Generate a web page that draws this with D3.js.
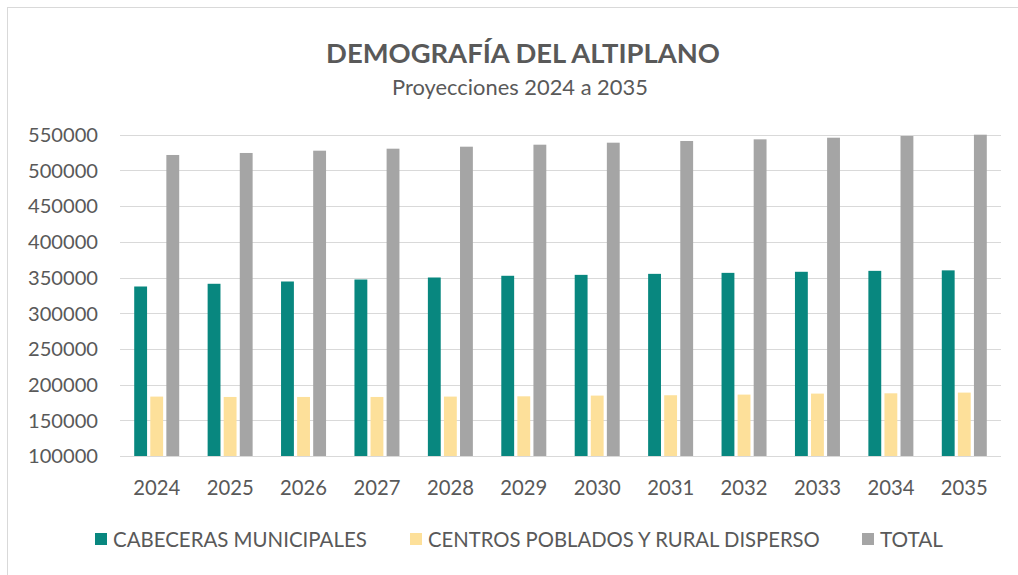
<!DOCTYPE html>
<html>
  <head>
    <meta charset="utf-8">
    <title>Demografía del Altiplano</title>
    <script src="https://cdn.jsdelivr.net/npm/d3@7"></script>
    <style>
      body { margin: 0; background: #fff; }
      svg text { font-family: Lato, "Open Sans", sans-serif; fill: #595959; }
    </style>
  </head>
  <body>
    <svg id="chart" width="1018" height="575"></svg>

    <script>
      // data
      years = ["2024", "2025", "2026", "2027", "2028", "2029", "2030", "2031", "2032", "2033", "2034", "2035"];
      seriesNames = ["CABECERAS MUNICIPALES", "CENTROS POBLADOS Y RURAL DISPERSO", "TOTAL"];
      cabeceras = [337400, 341200, 344400, 347200, 350000, 352400, 353700, 355100, 356500, 358000, 359300, 360000];
      centros = [183200, 182700, 182700, 182700, 183200, 183600, 184600, 185100, 186000, 187400, 187800, 188800];
      total = [521600, 524400, 527600, 530400, 533200, 536000, 538800, 541200, 543500, 545800, 548200, 550000];
      yTicks = [100000, 150000, 200000, 250000, 300000, 350000, 400000, 450000, 500000, 550000];
      colors = ["#08877f", "#fde09a", "#a5a5a5"];

      svg = d3.select("#chart");

      // sizes a text so that it takes the given width
      function fit(sel, width) {
        sel.each(function() {
          var size = parseFloat(this.getAttribute("font-size"));
          var w = this.getComputedTextLength();
          if (w > 0) this.setAttribute("font-size", (size * width / w).toFixed(2));
        });
        return sel;
      }

      // frame
      svg.append("rect")
        .attr("x", 7.5).attr("y", 7.5)
        .attr("width", 1100).attr("height", 700)
        .attr("fill", "none")
        .attr("stroke", "#d9d9d9");

      // titles
      svg.append("text")
        .attr("x", 523).attr("y", 63)
        .attr("text-anchor", "middle")
        .attr("font-size", 26)
        .attr("font-weight", "bold")
        .text("DEMOGRAFÍA DEL ALTIPLANO")
        .call(fit, 394);
      svg.append("text")
        .attr("x", 520).attr("y", 95)
        .attr("text-anchor", "middle")
        .attr("font-size", 18)
        .text("Proyecciones 2024 a 2035")
        .call(fit, 256);

      // scales
      x0 = d3.scaleBand()
        .domain(years)
        .range([120, 1001])
        .padding(0);
      x1 = d3.scaleBand()
        .domain(seriesNames)
        .range([0, 45])
        .paddingInner(0.2);
      y = d3.scaleLinear()
        .domain([100000, 550000])
        .range([456, 134.7]);

      // grid
      svg.append("g")
        .selectAll("line")
        .data(yTicks)
        .join("line")
          .attr("x1", 120).attr("x2", 1001)
          .attr("y1", function(d) { return Math.round(y(d)) + 0.5; })
          .attr("y2", function(d) { return Math.round(y(d)) + 0.5; })
          .attr("stroke", "#d9d9d9")
          .attr("stroke-width", 1.2);

      // y axis
      yAxis = d3.axisLeft(y)
        .tickValues(yTicks)
        .tickFormat(d3.format("d"))
        .tickSize(0)
        .tickPadding(0);
      svg.append("g")
        .attr("transform", "translate(98, 0)")
        .call(yAxis)
        .call(function(g) { g.select(".domain").remove(); })
        .selectAll("text")
          .attr("font-size", 19)
          .attr("dy", "0.34em")
          .style("font-family", "Lato, sans-serif")
          .attr("fill", "#595959")
          .call(fit, 70);

      // x axis
      xAxis = d3.axisBottom(x0).tickSize(0).tickPadding(0);
      svg.append("g")
        .attr("transform", "translate(0, 495)")
        .call(xAxis)
        .call(function(g) { g.select(".domain").remove(); })
        .selectAll("text")
          .attr("dy", 0)
          .attr("font-size", 19)
          .style("font-family", "Lato, sans-serif")
          .attr("fill", "#595959")
          .call(fit, 47);

      // bars
      rows = years.map(function(yr, i) {
        return { year: yr, values: [cabeceras[i], centros[i], total[i]] };
      });
      groups = svg.append("g")
        .selectAll("g")
        .data(rows)
        .join("g")
          .attr("transform", function(d) {
            return "translate(" + (x0(d.year) + (x0.bandwidth() - 45) / 2) + ",0)";
          });
      groups.selectAll("rect")
        .data(function(d) {
          return d.values.map(function(v, j) { return { name: seriesNames[j], value: v, color: colors[j] }; });
        })
        .join("rect")
          .attr("x", function(d) { return x1(d.name); })
          .attr("width", x1.bandwidth())
          .attr("y", function(d) { return y(d.value); })
          .attr("height", function(d) { return y(100000) - y(d.value); })
          .attr("fill", function(d) { return d.color; });

      // legend
      legendX = [95, 410, 862];
      legendW = [254, 392, 63];
      legend = svg.append("g")
        .selectAll("g")
        .data(seriesNames)
        .join("g")
          .attr("transform", function(d, i) { return "translate(" + legendX[i] + ",533)"; });
      legend.append("rect")
        .attr("width", 12).attr("height", 12)
        .attr("fill", function(d, i) { return colors[i]; });
      legend.append("text")
        .attr("x", 18).attr("y", 14)
        .attr("font-size", 19)
        .text(function(d) { return d; })
        .each(function(d, i) { d3.select(this).call(fit, legendW[i]); });
    </script>
  </body>
</html>
